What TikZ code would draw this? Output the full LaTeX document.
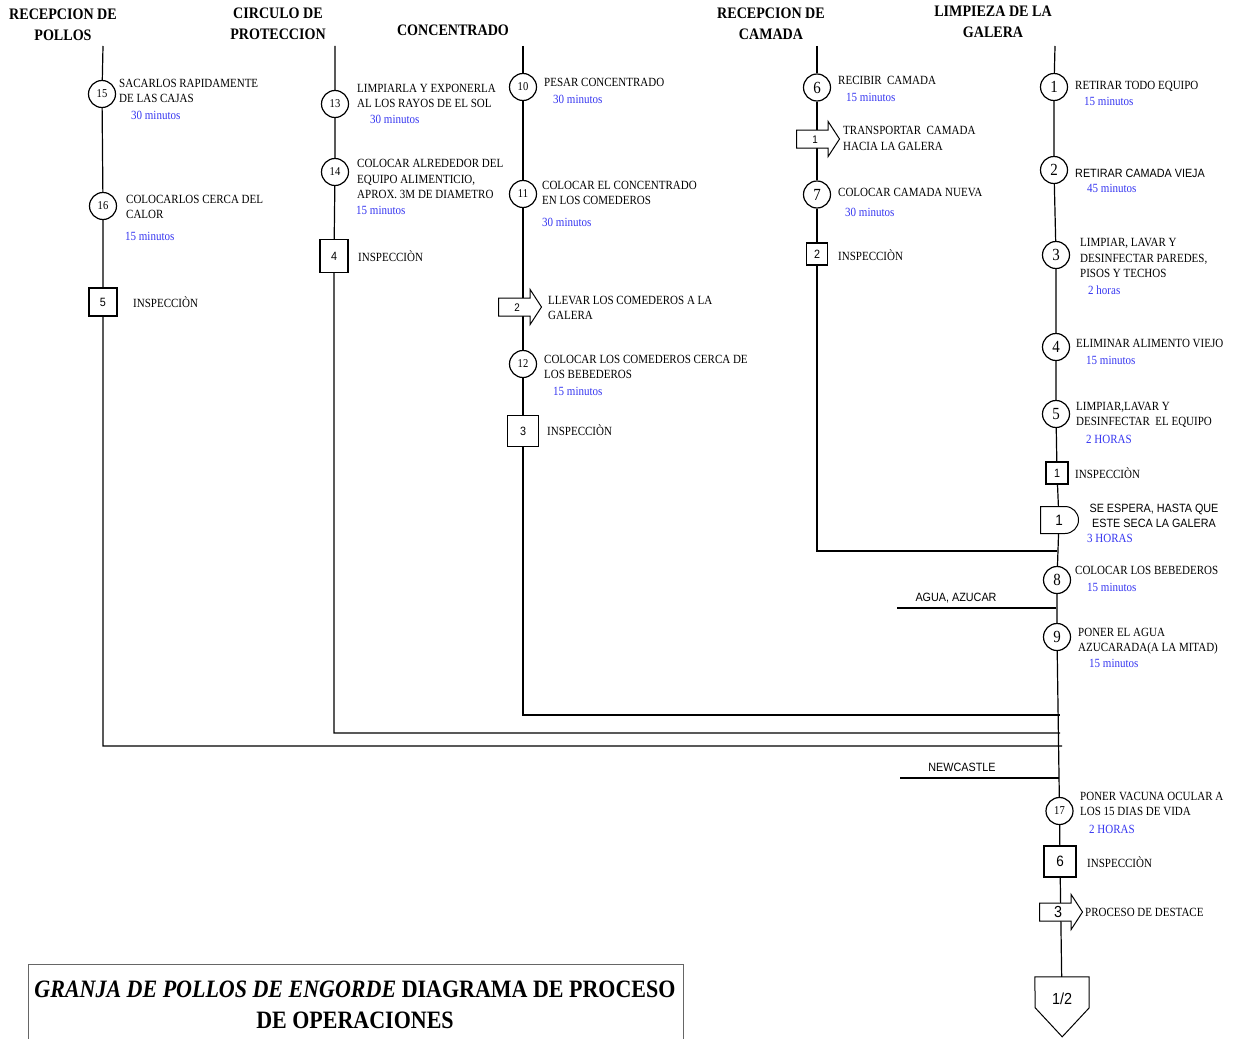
\documentclass[tikz,border=0pt]{standalone}
\usepackage{fontspec}
\setmainfont{Liberation Serif}[FakeStretch=0.88]
\setsansfont{Liberation Sans}[FakeStretch=0.9]
\usepackage{tikz}
\usetikzlibrary{shapes.arrows,shapes.misc,backgrounds}
\usepackage{xcolor}
\definecolor{TimeBlue}{HTML}{3535F0}
\definecolor{BoxGray}{HTML}{666666}
\newcommand{\lblfont}{\fontsize{12.5}{15.5}\selectfont}
\newcommand{\hdrfont}{\fontsize{16}{21}\selectfont\bfseries}
\newcommand{\bignum}{\fontsize{17}{17}\selectfont}
\newcommand{\smnum}{\fontsize{12}{12}\selectfont}
\newcommand{\sqnum}{\sffamily\fontsize{12}{12}\selectfont}
\newcommand{\ttlfont}{\fontsize{25}{31}\selectfont\bfseries}

\begin{document}
\begin{tikzpicture}[x=1pt, y=-1pt,
    hdr/.style={align=center, font=\hdrfont},
    opc/.style={circle, draw, line width=1.2pt, fill=white, minimum size=27pt,
                inner sep=0pt, font=\bignum},
    insp/.style={rectangle, draw, line width=1.2pt, fill=white, inner sep=0pt,
                 font=\sqnum},
    trans/.style={single arrow, draw, line width=1pt, fill=white,
                  inner xsep=0pt, inner ysep=4.5pt, text height=8pt, text depth=0pt,
                  anchor=tail, minimum height=43pt, minimum width=34pt,
                  single arrow head extend=8.5pt, single arrow tip angle=114,
                  font=\sqnum},
    lbl/.style={anchor=west, align=left, font=\lblfont, inner sep=0pt},
    tmp/.style={anchor=west, font=\lblfont, text=TimeBlue, inner sep=0pt},
    sfl/.style={font=\sffamily\fontsize{12}{15.5}\selectfont, inner sep=0pt},
    flow/.style={line width=1.2pt}
  ]
    \useasboundingbox (0,0) rectangle (1246,1038);

    % encabezados
    \node[hdr] (hA) at (63,25)  {RECEPCION DE\\POLLOS};
    \node[hdr] (hB) at (278,24) {CIRCULO DE\\PROTECCION};
    \node[hdr] (hC) at (453,30) {CONCENTRADO};
    \node[hdr] (hD) at (771,24) {RECEPCION DE\\CAMADA};
    \node[hdr] (hE) at (993,22) {LIMPIEZA DE LA\\GALERA};

    \coordinate (tA) at (103,46);
    \coordinate (tB) at (335,46);
    \coordinate (tC) at (523,46);
    \coordinate (tD) at (817,46);
    \coordinate (tE) at (1055,46);

    % recepcion de pollos
    \node[opc, font=\smnum] (o15) at (102,94)  {15};
    \node[opc, font=\smnum] (o16) at (103,206) {16};
    \node[insp, minimum size=28pt] (i5) at (103,302) {5};
    \node[lbl] (l15) at (119,91)  {SACARLOS RAPIDAMENTE\\DE LAS CAJAS};
    \node[tmp] (t15) at (131,115) {30 minutos};
    \node[lbl] (l16) at (126,207) {COLOCARLOS CERCA DEL\\CALOR};
    \node[tmp] (t16) at (125,236) {15 minutos};
    \node[lbl] (li5) at (133,302) {INSPECCIÒN};

    % circulo de proteccion
    \node[opc, font=\smnum] (o13) at (335,104) {13};
    \node[opc, font=\smnum] (o14) at (335,172) {14};
    \node[insp, minimum width=28pt, minimum height=33pt] (i4) at (334,256) {4};
    \node[lbl] (l13) at (357,96)  {LIMPIARLA Y EXPONERLA\\AL LOS RAYOS DE EL SOL};
    \node[tmp] (t13) at (370,119) {30 minutos};
    \node[lbl] (l14) at (357,179) {COLOCAR ALREDEDOR DEL\\EQUIPO ALIMENTICIO,\\APROX. 3M DE DIAMETRO};
    \node[tmp] (t14) at (356,210) {15 minutos};
    \node[lbl] (li4) at (358,256) {INSPECCIÒN};

    % concentrado
    \node[opc, font=\smnum] (o10) at (523,87)  {10};
    \node[opc, font=\smnum] (o11) at (523,194) {11};
    \node[trans, font=\sffamily\fontsize{11}{11}\selectfont] (a2) at (498,307) {2};
    \node[opc, font=\smnum] (o12) at (523,364) {12};
    \node[insp, minimum size=31pt] (i3) at (523,431) {3};
    \node[lbl] (l10) at (544,82)  {PESAR CONCENTRADO};
    \node[tmp] (t10) at (553,99)  {30 minutos};
    \node[lbl] (l11) at (542,193) {COLOCAR EL CONCENTRADO\\EN LOS COMEDEROS};
    \node[tmp] (t11) at (542,222) {30 minutos};
    \node[lbl] (la2) at (548,308) {LLEVAR LOS COMEDEROS A LA\\GALERA};
    \node[lbl] (l12) at (544,367) {COLOCAR LOS COMEDEROS CERCA DE\\LOS BEBEDEROS};
    \node[tmp] (t12) at (553,391) {15 minutos};
    \node[lbl] (li3) at (547,430) {INSPECCIÒN};

    % recepcion de camada
    \node[opc] (o6) at (817,87.5)  {6};
    \node[trans, font=\sffamily\fontsize{11}{11}\selectfont] (a1) at (796,139) {1};
    \node[opc] (o7) at (817,194.5) {7};
    \node[insp, minimum width=21pt, minimum height=22pt] (i2) at (817,254) {2};
    \node[lbl] (l6)  at (838,80)    {RECIBIR\ \ CAMADA};
    \node[tmp] (t6)  at (846,97)    {15 minutos};
    \node[lbl] (la1) at (843,138.5) {TRANSPORTAR\ \ CAMADA\\HACIA LA GALERA};
    \node[lbl] (l7)  at (838,192)   {COLOCAR CAMADA NUEVA};
    \node[tmp] (t7)  at (845,212)   {30 minutos};
    \node[lbl] (li2) at (838,255)   {INSPECCIÒN};

    % limpieza de la galera
    \node[opc] (o1) at (1054,87)  {1};
    \node[opc] (o2) at (1054,170) {2};
    \node[opc] (o3) at (1056,255) {3};
    \node[opc] (o4) at (1056,347) {4};
    \node[opc] (o5) at (1056,414) {5};
    \node[insp, minimum width=22pt, minimum height=22pt] (i1) at (1057,473) {1};
    \node[rounded rectangle, rounded rectangle west arc=none, draw, line width=1pt,
          fill=white, minimum width=38pt, minimum height=27pt, inner sep=0pt,
          anchor=west, font=\sffamily\fontsize{15}{15}\selectfont] (d1) at (1040,520) {1};
    \node[opc] (o8) at (1057,580) {8};
    \node[opc] (o9) at (1057,637) {9};
    \node[opc, font=\smnum] (o17) at (1059.5,811) {17};
    \node[insp, minimum width=32pt, minimum height=31pt,
          font=\sffamily\fontsize{15}{15}\selectfont] (i6) at (1060,861.5) {6};
    \node[trans, minimum width=35pt, text height=11pt, inner ysep=3pt,
          font=\sffamily\fontsize{16}{16}\selectfont] (a3) at (1039,912) {3};
    \node[minimum width=54pt, minimum height=44pt, inner sep=0pt,
          font=\sffamily\fontsize{16}{16}\selectfont] (oc) at (1062,999) {1/2};
    \draw[line width=1pt] (oc.north west) -- (oc.north east) -- ++(0,31)
      -- ++(-27,29) -- ++(-27,-29) -- cycle;

    \node[lbl] (l1)  at (1075,86)  {RETIRAR TODO EQUIPO};
    \node[tmp] (t1)  at (1084,101) {15 minutos};
    \node[lbl, font=\sffamily\fontsize{12}{15.5}\selectfont] (l2) at (1075,173) {RETIRAR CAMADA VIEJA};
    \node[tmp] (t2)  at (1087,188) {45 minutos};
    \node[lbl] (l3)  at (1080,258) {LIMPIAR, LAVAR Y\\DESINFECTAR PAREDES,\\PISOS Y TECHOS};
    \node[tmp] (t3)  at (1088,290) {2 horas};
    \node[lbl] (l4)  at (1076,343) {ELIMINAR ALIMENTO VIEJO};
    \node[tmp] (t4)  at (1086,360) {15 minutos};
    \node[lbl] (l5)  at (1076,415) {LIMPIAR,LAVAR Y\\DESINFECTAR\ \ EL EQUIPO};
    \node[tmp] (t5)  at (1086,439) {2 HORAS};
    \node[lbl] (li1) at (1075,473) {INSPECCIÒN};
    \node[sfl, align=center] (ld1) at (1154,516) {SE ESPERA, HASTA QUE\\ESTE SECA LA GALERA};
    \node[tmp] (td1) at (1087,538) {3 HORAS};
    \node[lbl] (l8)  at (1075,570) {COLOCAR LOS BEBEDEROS};
    \node[tmp] (t8)  at (1087,587) {15 minutos};
    \node[lbl] (l9)  at (1078,641) {PONER EL AGUA\\AZUCARADA(A LA MITAD)};
    \node[tmp] (t9)  at (1089,663) {15 minutos};
    \node[lbl] (l17) at (1080,804) {PONER VACUNA OCULAR A\\LOS 15 DIAS DE VIDA};
    \node[tmp] (t17) at (1089,829) {2 HORAS};
    \node[lbl] (li6) at (1087,862) {INSPECCIÒN};
    \node[lbl] (la3) at (1085,912) {PROCESO DE DESTACE};

    % entradas
    \coordinate (ag0) at (897,608);
    \coordinate (ag1) at (1056,608);
    \node[sfl] (agua) at (956,598) {AGUA, AZUCAR};
    \coordinate (nc0) at (900,778);
    \coordinate (nc1) at (1059,778);
    \node[sfl] (newc) at (962,767) {NEWCASTLE};

    \coordinate (jD) at (1057,551);
    \coordinate (jC) at (1060,715);
    \coordinate (jB) at (1060,733);
    \coordinate (jA) at (1062,746);

    \begin{scope}[on background layer]
      \draw[flow] (tA) -- (o15) -- (o16) -- (i5) |- (jA);
      \draw[flow] (tB) -- (o13) -- (o14) -- (i4) |- (jB);
      \draw[flow] (tC) -- (o10) -- (o11) -- (o12) -- (i3) |- (jC);
      \draw[flow] (tD) -- (o6) -- (o7) -- (i2) |- (jD);
      \draw[flow] (tE) -- (o1) -- (o2) -- (o3) -- (o4) -- (o5) -- (i1) -- (d1)
                  -- (o8) -- (o9) -- (o17) -- (i6) -- (oc);
      \draw[flow] (ag0) -- (ag1);
      \draw[flow] (nc0) -- (nc1);
    \end{scope}

    % titulo
    \draw[BoxGray, line width=1pt] (28,1039) |- (683,964) -- (683,1039);
    \node[align=center, font=\ttlfont] (tit) at (355,1005)
      {\textit{GRANJA DE POLLOS DE ENGORDE} DIAGRAMA DE PROCESO\\DE OPERACIONES};
  \end{tikzpicture}
\end{document}
